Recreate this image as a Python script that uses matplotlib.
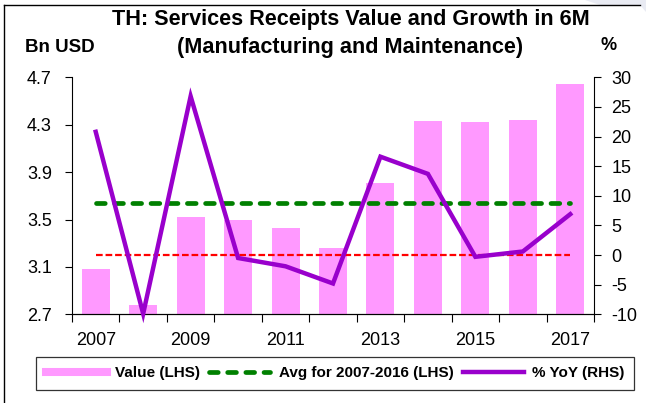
import matplotlib
matplotlib.use("Agg")
import matplotlib.pyplot as plt
from matplotlib.lines import Line2D
from matplotlib.patches import Polygon
import numpy as np

plt.rcParams['font.family'] = ['Liberation Sans', 'DejaVu Sans']

years = [2007, 2008, 2009, 2010, 2011, 2012, 2013, 2014, 2015, 2016, 2017]
value_bn = [3.08, 2.78, 3.52, 3.50, 3.43, 3.26, 3.81, 4.33, 4.32, 4.34, 4.64]
yoy_pct = [20.8, -9.9, 26.8, -0.5, -1.9, -4.8, 16.6, 13.7, -0.3, 0.6, 6.9]
avg_2007_2016 = 3.64
left_ticks = [2.7, 3.1, 3.5, 3.9, 4.3, 4.7]
right_ticks = [-10, -5, 0, 5, 10, 15, 20, 25, 30]
xlabels = ['2007', '2009', '2011', '2013', '2015', '2017']

W, H = 646, 403
fig = plt.figure(figsize=(W / 100, H / 100), dpi=100)

def fx(px):
    return px / W

def fy(py):
    return 1 - py / H

# light shading at top-right corner
fig.add_artist(Polygon([[fx(585), 1], [1, 1], [1, fy(12)], [fx(640), fy(5)], [fx(600), fy(5)]],
                       closed=True, facecolor='#E9EBF3', edgecolor='none',
                       transform=fig.transFigure))

ax = fig.add_axes([fx(72), fy(314.3), fx(594) - fx(72), fy(77.3) - fy(314.3)])
x = np.arange(len(years))

ax.bar(x, value_bn, width=0.59, color='#FF99FF', zorder=1)
ax.plot([x[0], x[-1]], [avg_2007_2016] * 2, color='#008000', lw=3.4,
        dashes=(1.85, 2.0), dash_capstyle='round', zorder=2)
ax.set_xlim(-0.5, len(years) - 0.5)
ax.set_ylim(2.7, 4.7)
ax.set_yticks(left_ticks)
ax.set_yticklabels([f'{t:.1f}' for t in left_ticks], fontsize=13)

ax.set_xticks(x[::2])
ax.set_xticklabels(xlabels, fontsize=13)
ax.set_xticks(np.arange(-0.5, len(years), 1.0), minor=True)
ax.tick_params(axis='x', which='major', length=0, pad=13)
ax.tick_params(axis='x', which='minor', length=6, width=0.8, direction='out')
ax.tick_params(axis='y', length=5, width=0.8, direction='out', pad=9.5)

ax.spines['top'].set_visible(False)
ax.spines['right'].set_visible(False)

ax2 = ax.twinx()
ax2.set_ylim(-10, 30)
ax2.set_yticks(right_ticks)
ax2.set_yticklabels([str(t) for t in right_ticks], fontsize=13)
ax2.tick_params(axis='y', length=5, width=0.8, direction='out', pad=7.5)
ax2.spines['top'].set_visible(False)
ax2.spines['left'].set_visible(False)
ax2.plot([x[0], x[-1]], [0, 0], color='#FF0000', lw=1.6, dashes=(3.0, 1.3), zorder=2)
ax2.plot(x, yoy_pct, color='#9900CC', lw=3.2, zorder=3, clip_on=False,
         solid_joinstyle='miter')

fig.text(fx(351), fy(20), 'TH: Services Receipts Value and Growth in 6M',
         ha='center', va='center', fontsize=15.6, fontweight='bold')
fig.text(fx(350), fy(47), '(Manufacturing and Maintenance)',
         ha='center', va='center', fontsize=15.6, fontweight='bold')
fig.text(fx(60), fy(47), 'Bn USD', ha='center', va='center', fontsize=13.5, fontweight='bold')
fig.text(fx(609), fy(46), '%', ha='center', va='center', fontsize=13, fontweight='bold')

# outer frame (top and left)
fig.add_artist(Line2D([fx(4), fx(4)], [fy(5), 0], color='black', lw=1))
fig.add_artist(Line2D([fx(4), fx(640)], [fy(5), fy(5)], color='black', lw=1))

handles = [
    Line2D([], [], color='#FF99FF', lw=5.8),
    Line2D([], [], color='#008000', lw=3.4, dashes=(1.85, 2.0), dash_capstyle='round'),
    Line2D([], [], color='#9900CC', lw=3.2),
]
labels = ['Value (LHS)', 'Avg for 2007-2016 (LHS)', '% YoY (RHS)']
leg = fig.legend(handles, labels, loc='center', bbox_to_anchor=(fx(335), fy(373.5)),
                 ncol=3, frameon=True, fancybox=False, edgecolor='black',
                 prop={'size': 11, 'weight': 'bold'}, handlelength=4.0,
                 columnspacing=0.6, handletextpad=0.55, borderpad=0.6)
leg.get_frame().set_linewidth(0.9)

fig.savefig('out.png', dpi=100)
